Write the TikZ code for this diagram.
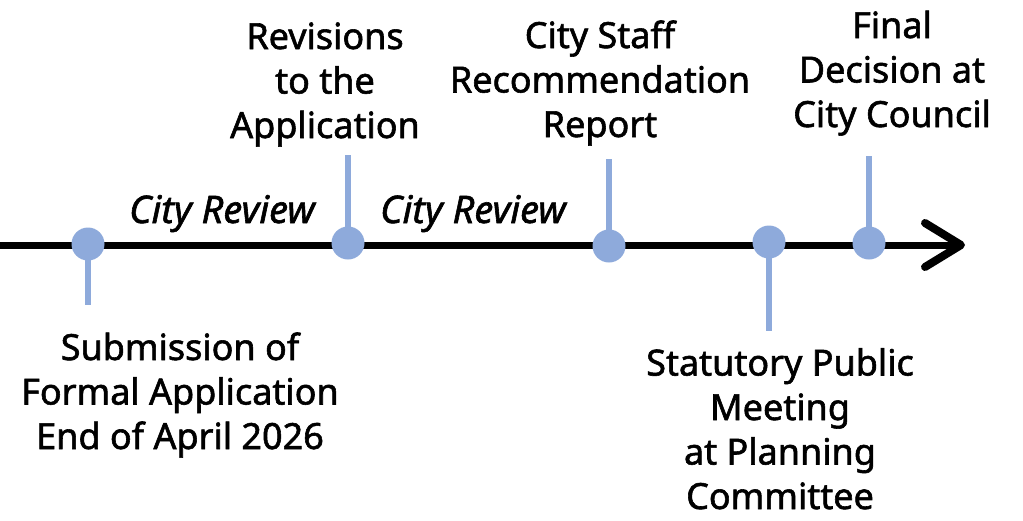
\documentclass[tikz,border=0pt]{standalone}
\usepackage{fontspec}
\setmainfont{Noto Sans}
\newfontfamily\medfont{Noto Sans}[FakeBold=1.6]
\usetikzlibrary{arrows.meta}
\definecolor{dotblue}{HTML}{8EAADB}
\tikzset{
  dot/.style={circle,fill=dotblue,minimum size=33pt,inner sep=0pt},
  stem/.style={draw=dotblue,line width=6.7pt},
  lbl/.style={align=center,anchor=base,inner sep=0pt,font=\medfont\fontsize{36}{44.5}\selectfont},
  rev/.style={anchor=base,inner sep=0pt,font=\medfont\fontsize{38}{40}\selectfont\itshape}
}
\begin{document}
\begin{tikzpicture}[x=1pt,y=-1pt]
\useasboundingbox (0,0) rectangle (1023,520);
\coordinate (start) at (0,245);
\coordinate (end) at (965,245);
\draw[line width=7pt,-{Straight Barb[length=36pt,width=44pt,line width=8pt,round]}] (start) -- (end);
\coordinate (s1) at (88,305);
\coordinate (s2) at (348,155);
\coordinate (s3) at (609,159);
\coordinate (s4) at (769,331);
\coordinate (s5) at (869,156);
\coordinate (d1c) at (88,244);
\coordinate (d2c) at (348,243);
\coordinate (d3c) at (609,246);
\coordinate (d4c) at (769,242);
\coordinate (d5c) at (869,243);
\draw[stem] (d1c) -- (s1);
\draw[stem] (d2c) -- (s2);
\draw[stem] (d3c) -- (s3);
\draw[stem] (d4c) -- (s4);
\draw[stem] (d5c) -- (s5);
\node[dot] (d1) at (d1c) {};
\node[dot] (d2) at (d2c) {};
\node[dot] (d3) at (d3c) {};
\node[dot] (d4) at (d4c) {};
\node[dot] (d5) at (d5c) {};
\node[lbl] (l1) at (180,449) {Submission of\\Formal Application\\End of April 2026};
\node[lbl] (l2) at (325,138) {Revisions\\to the\\Application};
\node[lbl] (l3) at (600,137) {City Staff\\Recommendation\\Report};
\node[lbl] (l5) at (892,127) {Final\\Decision at\\City Council};
\node[lbl] (l4) at (780,509) {Statutory Public\\Meeting\\at Planning\\Committee};
\node[rev] (r1) at (222,223) {City Review};
\node[rev] (r2) at (473,223) {City Review};
\end{tikzpicture}
\end{document}
